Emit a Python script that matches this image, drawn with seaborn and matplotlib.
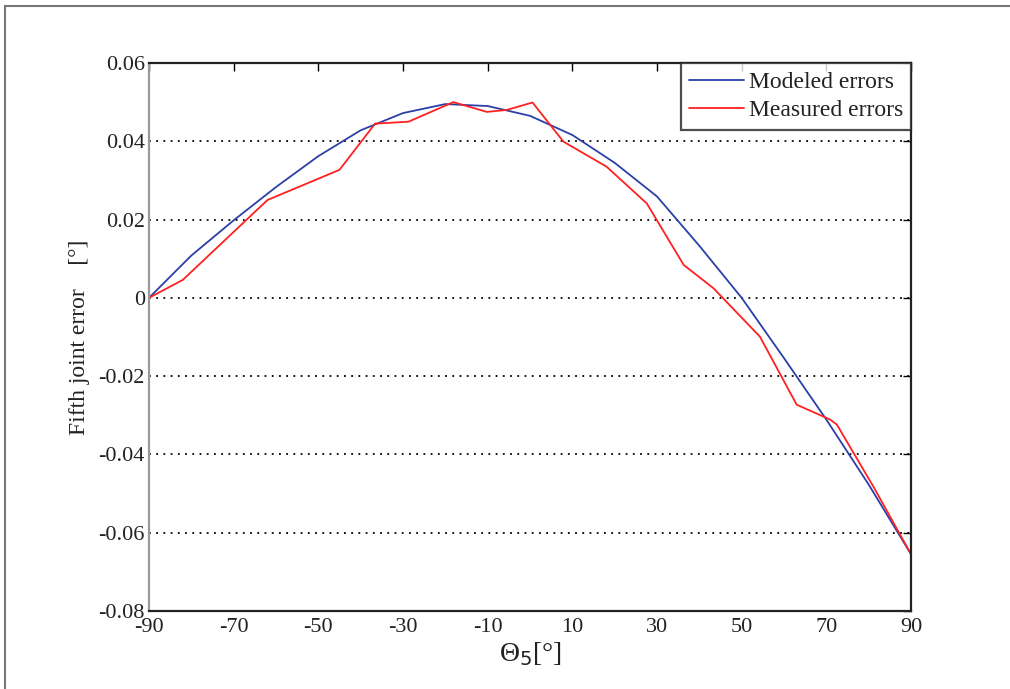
import matplotlib
matplotlib.use('Agg')
import matplotlib.pyplot as plt
import seaborn as sns
import pandas as pd
from matplotlib.lines import Line2D

# Modeled errors (smooth curve), read every 10 degrees
theta_model = [-90, -80, -70, -60, -50, -40, -30, -20, -10, 0,
               10, 20, 30, 40, 50, 60, 70, 80, 90]
err_model = [0.0, 0.0108, 0.0198, 0.0283, 0.0362, 0.0428, 0.0472, 0.0495, 0.049, 0.0465,
             0.0416, 0.0345, 0.0259, 0.0133, 0.0, -0.0154, -0.0311, -0.0477, -0.0655]

# Measured errors (piecewise), read at the kinks
theta_meas = [-90, -82, -62, -45, -36.6, -28.7, -18.1, -10.2, -5.5, 0.6,
              7.9, 18.1, 27.6, 36.3, 43.3, 54.3, 63, 70.9, 72.5, 81.1, 90]
err_meas = [0.0, 0.0046, 0.025, 0.0327, 0.0445, 0.045, 0.050, 0.0475, 0.048, 0.0499,
            0.0399, 0.0335, 0.0241, 0.0084, 0.0025, -0.0099, -0.0273, -0.0311, -0.0324, -0.0482, -0.0655]

model = pd.DataFrame({'theta': theta_model, 'err': err_model})
meas = pd.DataFrame({'theta': theta_meas, 'err': err_meas})

sns.set_style('white')
plt.rcParams['font.family'] = ['Liberation Serif', 'DejaVu Serif']
plt.rcParams['axes.unicode_minus'] = False

fig = plt.figure(figsize=(10.1, 6.89), dpi=100)
ax = fig.add_axes([0.1475, 0.1132, 0.7545, 0.7954])

sns.lineplot(x='theta', y='err', data=model, ax=ax, color='#2b3fa8', lw=1.3,
             label='Modeled errors', sort=False)
sns.lineplot(x='theta', y='err', data=meas, ax=ax, color='#ff2020', lw=1.3,
             label='Measured errors', sort=False)

ax.set_xlim(-90, 90)
ax.set_ylim(-0.08, 0.06)
ax.set_xticks(range(-90, 91, 20))
ax.set_yticks([-0.08, -0.06, -0.04, -0.02, 0, 0.02, 0.04, 0.06])
ax.set_yticklabels(['-0.08', '-0.06', '-0.04', '-0.02', '0', '0.02', '0.04', '0.06'])
ax.tick_params(direction='in', length=6, labelsize=16, top=True, right=True,
               color='black', width=1)
ax.tick_params(axis='x', pad=5)
ax.tick_params(axis='y', pad=3)
for lab in ax.get_xticklabels() + ax.get_yticklabels():
    lab.set_color('#222222')

# dotted horizontal grid
for yv in [-0.06, -0.04, -0.02, 0, 0.02, 0.04]:
    ax.axhline(yv, color='black', ls=(0, (1, 3)), lw=1.3, zorder=0)

for side in ['top', 'right', 'bottom']:
    ax.spines[side].set_color('#222222')
    ax.spines[side].set_linewidth(1.6)
ax.spines['left'].set_color('#999999')
ax.spines['left'].set_linewidth(1.6)

ax.set_xlabel('Θ$_5$[°]', fontsize=20, color='#222222', labelpad=2)
ax.set_ylabel('Fifth joint error    [°]', fontsize=17, color='#222222', labelpad=6)

leg = ax.legend(loc='upper right', fontsize=17, frameon=True, fancybox=False,
                borderaxespad=0, handlelength=2.3, borderpad=0.35, labelspacing=0.3,
                handletextpad=0.2)
leg.get_frame().set_edgecolor('#222222')
leg.get_frame().set_linewidth(1.6)
for t in leg.get_texts():
    t.set_color('#222222')

# outer frame lines (top and left)
fig.add_artist(Line2D([0.005, 1.0], [0.991, 0.991], transform=fig.transFigure,
                      color='#777777', lw=1.5))
fig.add_artist(Line2D([0.005, 0.005], [0.0, 0.991], transform=fig.transFigure,
                      color='#777777', lw=1.5))

fig.savefig('out.png', dpi=100)
